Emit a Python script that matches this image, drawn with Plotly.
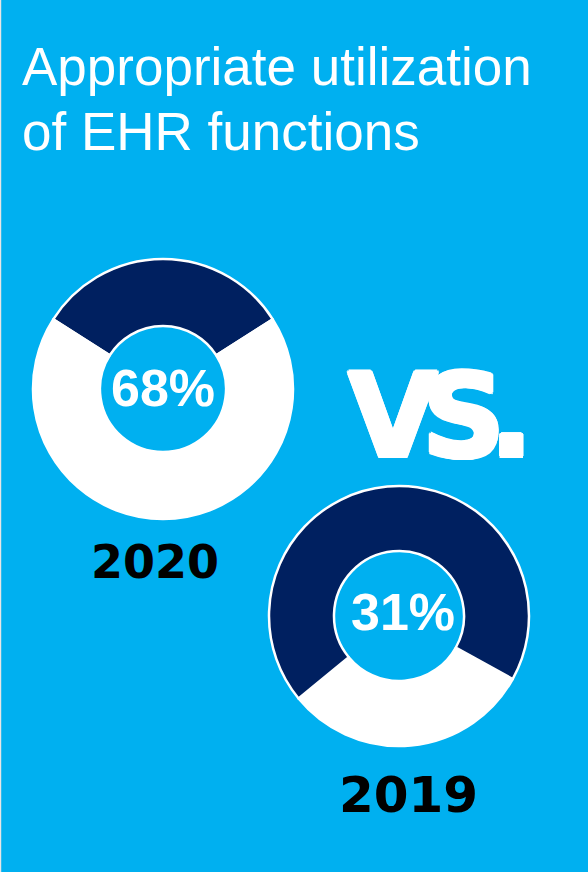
import plotly.graph_objects as go

# Share of respondents reporting appropriate use of EHR functions
years = ["2020", "2019"]
appropriate_pct = [68, 31]
segment_names = ["Appropriate", "Not appropriate"]

title_lines = ["Appropriate utilization", "of EHR functions"]
comparison_word = "VS."

BG = "#00B0F0"
NAVY = "#002060"
WHITE = "#FFFFFF"

W, H = 588, 872


def px_x(x):
    return x / W


def px_y(y):
    return 1 - y / H


fig = go.Figure()

# 2020 donut: navy remainder wedge centred at 12 o'clock
p20 = appropriate_pct[0]
fig.add_trace(go.Pie(
    values=[100 - p20, p20],
    labels=[segment_names[1], segment_names[0]],
    marker=dict(colors=[NAVY, WHITE], line=dict(color=WHITE, width=2.5)),
    hole=0.485,
    sort=False,
    direction="clockwise",
    rotation=-(100 - p20) * 3.6 / 2,
    textinfo="none",
    hoverinfo="label+value",
    showlegend=False,
    domain=dict(x=[px_x(33), px_x(293)], y=[px_y(519), px_y(259)]),
))

# 2019 donut: white share wedge near 6 o'clock
p19 = appropriate_pct[1]
fig.add_trace(go.Pie(
    values=[p19, 100 - p19],
    labels=[segment_names[0], segment_names[1]],
    marker=dict(colors=[WHITE, NAVY], line=dict(color=WHITE, width=2.5)),
    hole=0.5,
    sort=False,
    direction="clockwise",
    rotation=119,
    textinfo="none",
    hoverinfo="label+value",
    showlegend=False,
    domain=dict(x=[px_x(269), px_x(529)], y=[px_y(746), px_y(486)]),
))

annotations = []

# Title, two lines, left aligned
for line, mid_y in zip(title_lines, [66, 132]):
    annotations.append(dict(
        text=line, x=px_x(20), y=px_y(mid_y), xref="paper", yref="paper",
        xanchor="left", yanchor="middle", showarrow=False,
        font=dict(family="Liberation Sans, Arial", size=53, color=WHITE),
    ))

# Percentages in the donut holes
for pct, (cx, cy) in zip(appropriate_pct, [(163, 388), (403, 612)]):
    annotations.append(dict(
        text=f"{pct}%", x=px_x(cx), y=px_y(cy), xref="paper", yref="paper",
        xanchor="center", yanchor="middle", showarrow=False,
        font=dict(family="Liberation Sans, Arial", size=52, color=WHITE, weight="bold"),
    ))

# Year labels under each donut
for yr, (cx, cy), sz in zip(years, [(155, 562), (408, 795)], [46, 50]):
    annotations.append(dict(
        text=yr, x=px_x(cx), y=px_y(cy), xref="paper", yref="paper",
        xanchor="center", yanchor="middle", showarrow=False,
        font=dict(family="DejaVu Sans", size=sz, color="#000000", weight="bold"),
    ))

# Big heavy "VS." with tight letter spacing, thickened by a white outline
annotations.append(dict(
    text=f'<span style="letter-spacing:-16px">{comparison_word}</span>',
    x=px_x(435), y=px_y(415), xref="paper", yref="paper",
    xanchor="center", yanchor="middle", showarrow=False,
    font=dict(family="DejaVu Sans", size=116, color=WHITE, weight="bold",
              shadow="2px 0 0 #fff, -2px 0 0 #fff, 0 2px 0 #fff, 0 -2px 0 #fff, "
                     "1.5px 1.5px 0 #fff, -1.5px -1.5px 0 #fff, 1.5px -1.5px 0 #fff, -1.5px 1.5px 0 #fff"),
))

fig.update_layout(
    width=W, height=H,
    margin=dict(l=0, r=0, t=0, b=0),
    paper_bgcolor=BG,
    plot_bgcolor=BG,
    annotations=annotations,
    shapes=[dict(type="line", xref="paper", yref="paper",
                 x0=0.0008, x1=0.0008, y0=0, y1=1,
                 line=dict(color="#E6E6E6", width=1.5))],
)

fig.write_html("out.html")
